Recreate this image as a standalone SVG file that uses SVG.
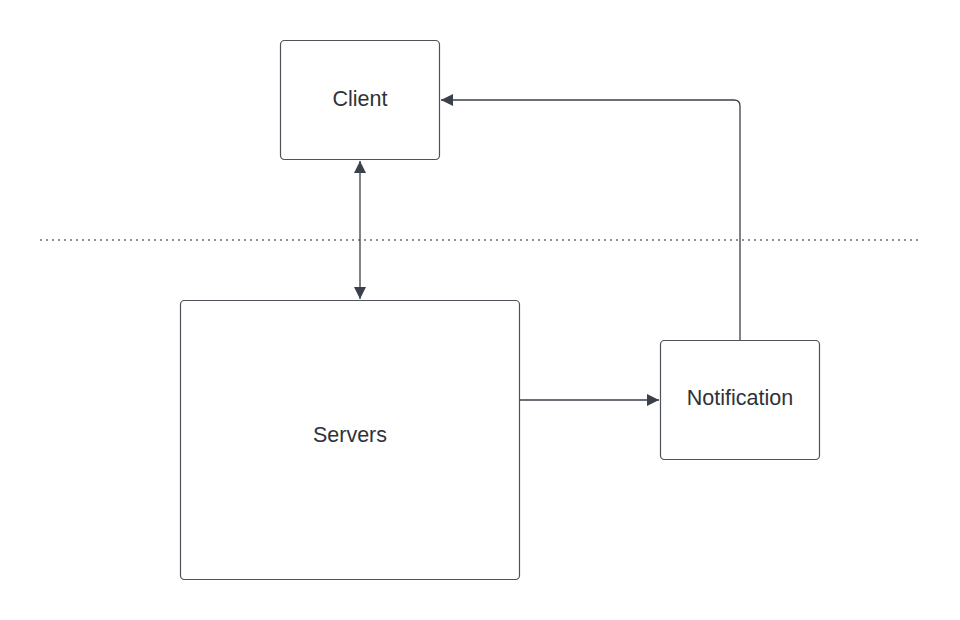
<svg xmlns="http://www.w3.org/2000/svg" width="960" height="620" viewBox="0 0 960 620">
<style>
.box{fill:#ffffff;stroke:#4d5158;stroke-width:1.2}
.lbl{font-family:"Liberation Sans",Arial,sans-serif;font-size:21.5px;fill:#2e333a;text-anchor:middle;dominant-baseline:central}
.conn{fill:none;stroke:#3a414a;stroke-width:1.3}
.dot{fill:none;stroke:#222222;stroke-width:1.2;stroke-dasharray:2 4}
</style>
<defs>
<marker id="arr" viewBox="0 0 12 12" refX="12" refY="6" markerWidth="12" markerHeight="12" markerUnits="userSpaceOnUse" orient="auto-start-reverse">
<path d="M0,0 L12,6 L0,12 z" fill="#3a414a"/>
</marker>
</defs>
<rect width="960" height="620" fill="#ffffff"/>
<line class="dot" x1="40" y1="240" x2="920" y2="240"/>
<g id="connectors">
<line class="conn" x1="360" y1="161" x2="360" y2="299" marker-start="url(#arr)" marker-end="url(#arr)"/>
<path class="conn" d="M520,400 L659,400" marker-end="url(#arr)"/>
<path class="conn" d="M740,340 L740,106 Q740,100 734,100 L441,100" marker-end="url(#arr)"/>
</g>
<g id="client">
<rect class="box" x="280.5" y="40.5" width="159" height="119" rx="4"/>
<text class="lbl" x="360" y="99">Client</text>
</g>
<g id="servers">
<rect class="box" x="180.5" y="300.5" width="339" height="279" rx="4"/>
<text class="lbl" x="350" y="435">Servers</text>
</g>
<g id="notification">
<rect class="box" x="660.5" y="340.5" width="159" height="119" rx="4"/>
<text class="lbl" x="740" y="398">Notification</text>
</g>
</svg>
